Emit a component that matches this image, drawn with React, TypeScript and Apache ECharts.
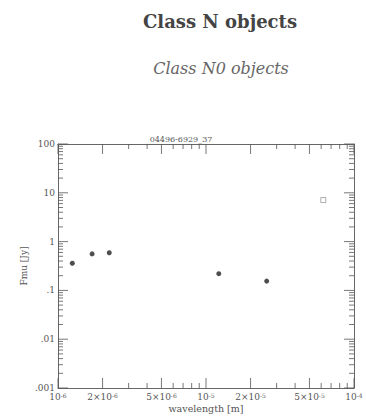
import React, { useEffect, useRef } from "react";
import * as echarts from "echarts";

// ---- data ----
const detWavelength = [1.25e-6, 1.7e-6, 2.22e-6, 1.22e-5, 2.57e-5]; // m
const detFlux = [0.36, 0.56, 0.59, 0.22, 0.155]; // Jy
const limWavelength = [6.2e-5];
const limFlux = [7.1];

const xMajorTicks = [1e-6, 2e-6, 5e-6, 1e-5, 2e-5, 5e-5, 1e-4];
const xMajorLabels = [
  "{n|10}{e|-6}",
  "{n|2×10}{e|-6}",
  "{n|5×10}{e|-6}",
  "{n|10}{e|-5}",
  "{n|2×10}{e|-5}",
  "{n|5×10}{e|-5}",
  "{n|10}{e|-4}",
];
const xMinorTicks = [3e-6, 4e-6, 6e-6, 7e-6, 8e-6, 9e-6, 3e-5, 4e-5, 6e-5, 7e-5, 8e-5, 9e-5];

const yMajorTicks = [1e-3, 1e-2, 1e-1, 1, 10, 100];
const yMajorLabels = [".001", ".01", ".1", "1", "10", "100"];
const yMinorMantissas = [2, 3, 4, 5, 6, 7, 8, 9];
const yMinorDecades = [1e-3, 1e-2, 1e-1, 1, 10];

const mainTitle = "Class N objects";
const subTitle = "Class N0 objects";
const plotTitle = "04496-6929_37";
const xName = "wavelength [m]";
const yName = "Fmu [Jy]";

// ---- helpers ----
const X_MIN = 1e-6, X_MAX = 1e-4, Y_MIN = 1e-3, Y_MAX = 100;
const lg = (v: number) => Math.round(Math.log10(v) * 1e9) / 1e9;
const xMajorLog = xMajorTicks.map(lg);
const yMajorLog = yMajorTicks.map(lg);
const yMinorTicks: number[] = [];
yMinorDecades.forEach((d) => yMinorMantissas.forEach((m) => yMinorTicks.push(m * d)));

const nearest = (arr: number[], v: number) => {
  let best = 0;
  arr.forEach((a, i) => {
    if (Math.abs(a - v) < Math.abs(arr[best] - v)) best = i;
  });
  return best;
};

const AX = "#666";
const TICK = "#555";
const TXT = "#555";
const FONT = "DejaVu Serif";
const MAJOR_LEN = 10;
const MINOR_LEN = 5;

function frameAxis(dim: "x" | "y", position: string, label: any) {
  const [min, max] = dim === "x" ? [-6, -4] : [-3, 2];
  return {
    type: "value",
    gridIndex: 0,
    position,
    min,
    max,
    axisLine: { show: !label, onZero: false, lineStyle: { color: AX, width: 1 } },
    axisTick: { show: false },
    axisLabel: label || { show: false },
    splitLine: { show: false },
  };
}

// tick marks drawn as thin rect symbols on the data scales
function tickSeries(points: number[][], side: string, len: number) {
  const vertical = side === "bottom" || side === "top";
  const size = vertical ? [1, len] : [len, 1];
  const off =
    side === "bottom" ? [0, -len / 2] :
    side === "top" ? [0, len / 2] :
    side === "left" ? [len / 2, 0] : [-len / 2, 0];
  return {
    type: "scatter",
    xAxisIndex: 0,
    yAxisIndex: 0,
    silent: true,
    clip: false,
    symbol: "rect",
    symbolSize: size,
    symbolOffset: off,
    itemStyle: { color: TICK },
    z: 1,
    data: points,
  };
}

export default function App() {
  const ref = useRef<HTMLDivElement>(null);
  useEffect(() => {
    if (!ref.current) return;
    const chart = echarts.init(ref.current, null, { renderer: "svg" });
    const xLabel = {
      show: true,
      customValues: xMajorLog,
      margin: 4,
      formatter: (v: number) => xMajorLabels[nearest(xMajorLog, v)],
      rich: {
        n: { fontSize: 9, fontFamily: FONT, color: TXT, lineHeight: 10 },
        e: { fontSize: 6, fontFamily: FONT, color: TXT, verticalAlign: "top", lineHeight: 6 },
      },
    };
    const yLabel = {
      show: true,
      customValues: yMajorLog,
      margin: 3,
      fontSize: 9,
      fontFamily: FONT,
      color: TXT,
      formatter: (v: number) => yMajorLabels[nearest(yMajorLog, v)],
    };
    chart.setOption({
      animation: false,
      backgroundColor: "#fff",
      title: [
        {
          text: mainTitle,
          left: 220,
          top: 21,
          textAlign: "center",
          textVerticalAlign: "middle",
          padding: 0,
          textStyle: { fontFamily: "DejaVu Serif", fontWeight: "bold", fontSize: 18, color: "#444" },
        },
        {
          text: subTitle,
          left: 221,
          top: 68,
          textAlign: "center",
          textVerticalAlign: "middle",
          padding: 0,
          textStyle: { fontFamily: "DejaVu Serif", fontStyle: "italic", fontWeight: "normal", fontSize: 16, color: "#666" },
        },
        {
          text: plotTitle,
          left: 181,
          top: 139,
          textAlign: "center",
          textVerticalAlign: "middle",
          padding: 0,
          textStyle: { fontFamily: FONT, fontWeight: "normal", fontSize: 8, color: TXT },
        },
      ],
      grid: { left: 58, right: 12, top: 144, bottom: 29, containLabel: false, outerBoundsMode: "none" },
      xAxis: [
        {
          type: "log",
          logBase: 10,
          min: X_MIN,
          max: X_MAX,
          position: "bottom",
          axisLine: { show: true, onZero: false, lineStyle: { color: AX, width: 1 } },
          axisTick: { show: false },
          axisLabel: { show: false },
          splitLine: { show: false },
          name: xName,
          nameLocation: "middle",
          nameGap: 15,
          nameTextStyle: { fontFamily: FONT, fontSize: 9.5, color: TXT },
        },
        frameAxis("x", "bottom", xLabel),
        frameAxis("x", "top", null),
      ],
      yAxis: [
        {
          type: "log",
          logBase: 10,
          min: Y_MIN,
          max: Y_MAX,
          position: "left",
          axisLine: { show: true, onZero: false, lineStyle: { color: AX, width: 1 } },
          axisTick: { show: false },
          axisLabel: { show: false },
          splitLine: { show: false },
          name: yName,
          nameLocation: "middle",
          nameGap: 30,
          nameRotate: 90,
          nameTextStyle: { fontFamily: FONT, fontSize: 9, color: TXT },
        },
        frameAxis("y", "left", yLabel),
        frameAxis("y", "right", null),
      ],
      series: [
        tickSeries(xMajorTicks.map((v) => [v, Y_MIN]), "bottom", MAJOR_LEN),
        tickSeries(xMinorTicks.map((v) => [v, Y_MIN]), "bottom", MINOR_LEN),
        tickSeries(xMajorTicks.map((v) => [v, Y_MAX]), "top", MAJOR_LEN),
        tickSeries(xMinorTicks.map((v) => [v, Y_MAX]), "top", MINOR_LEN),
        tickSeries(yMajorTicks.map((v) => [X_MIN, v]), "left", MAJOR_LEN),
        tickSeries(yMinorTicks.map((v) => [X_MIN, v]), "left", MINOR_LEN),
        tickSeries(yMajorTicks.map((v) => [X_MAX, v]), "right", MAJOR_LEN),
        tickSeries(yMinorTicks.map((v) => [X_MAX, v]), "right", MINOR_LEN),
        {
          type: "scatter",
          xAxisIndex: 0,
          yAxisIndex: 0,
          symbol: "circle",
          symbolSize: 5,
          itemStyle: { color: "#222" },
          z: 3,
          data: detWavelength.map((w, i) => [w, detFlux[i]]),
        },
        {
          type: "scatter",
          xAxisIndex: 0,
          yAxisIndex: 0,
          symbol: "rect",
          symbolSize: 5,
          itemStyle: { color: "#fff", borderColor: "#999", borderWidth: 1 },
          z: 3,
          data: limWavelength.map((w, i) => [w, limFlux[i]]),
        },
      ],
    });

    return () => chart.dispose();
  }, []);
  return (
    <div
      ref={ref}
      style={{ position: "fixed", left: 0, top: 0, width: 366, height: 417, background: "#fff" }}
    />
  );
}
